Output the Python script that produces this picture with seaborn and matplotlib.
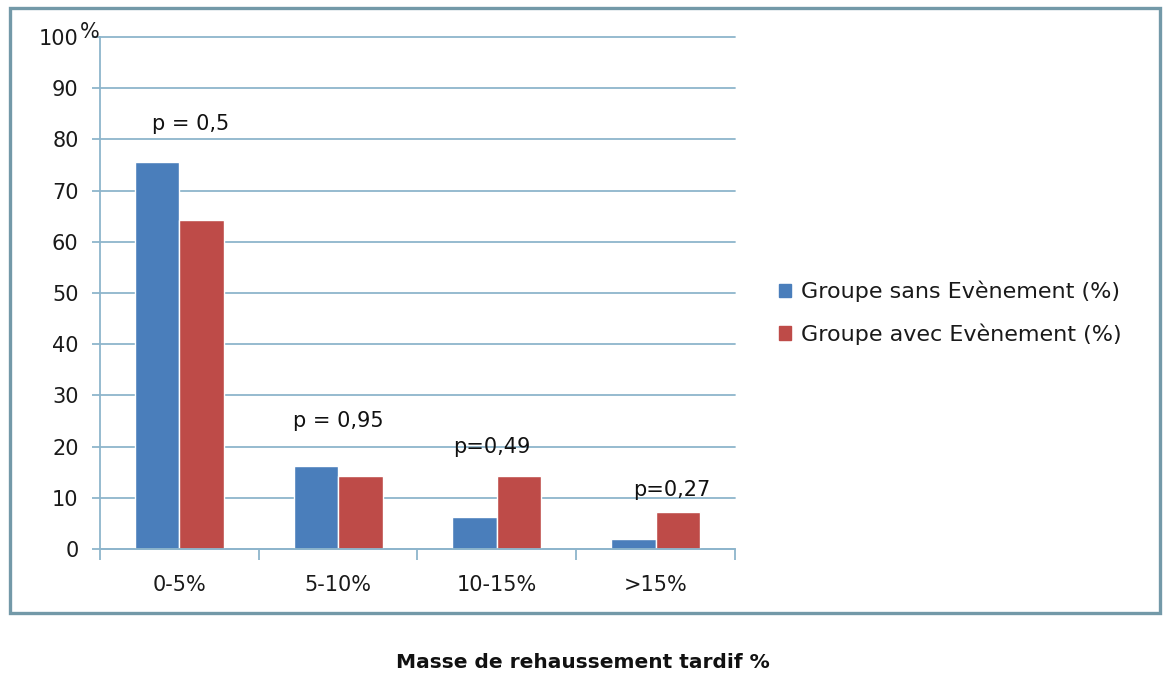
import matplotlib
matplotlib.use("Agg")
import matplotlib.pyplot as plt
import matplotlib.transforms as mtransforms
import seaborn as sns
import pandas as pd
from matplotlib.patches import Rectangle, Patch
from matplotlib.ticker import FixedLocator

categories = ["0-5%", "5-10%", "10-15%", ">15%"]
series_names = ["Groupe sans Evènement (%)", "Groupe avec Evènement (%)"]
sans_vals = [75.5, 16.2, 6.2, 2.0]
avec_vals = [64.3, 14.3, 14.3, 7.2]
p_labels = ["p = 0,5", "p = 0,95", "p=0,49", "p=0,27"]
p_x = [0.07, 1.0, 1.97, 3.1]
p_y = [83, 25, 19.9, 11.5]
y_ticks = [0, 10, 20, 30, 40, 50, 60, 70, 80, 90, 100]
colors = ["#4A7EBB", "#BE4B48"]

df = pd.DataFrame({
    "cat": categories * 2,
    "serie": [series_names[0]] * 4 + [series_names[1]] * 4,
    "val": sans_vals + avec_vals,
})

sns.set_theme(style="white")
plt.rcParams["font.family"] = ["DejaVu Sans"]

fig = plt.figure(figsize=(11.66, 6.74), dpi=100)
ax = fig.add_axes([0.0858, 0.1855, 0.5445, 0.7596])

sns.barplot(data=df, x="cat", y="val", hue="serie", palette=colors,
            order=categories, hue_order=series_names, width=0.56,
            saturation=1, ax=ax, legend=False)

grid_c = "#8DB5CC"
txt_c = "#1a1a1a"
fs = 15
ax.set_ylim(0, 100)
ax.set_xlim(-0.5, 3.5)
ax.yaxis.set_major_locator(FixedLocator(y_ticks))
ax.set_yticklabels([str(t) for t in y_ticks])
ax.grid(axis="y", color=grid_c, linewidth=1.3)
for gl in ax.yaxis.get_gridlines():
    gl.set_clip_on(False)
ax.set_axisbelow(True)
for s in ["top", "right"]:
    ax.spines[s].set_visible(False)
for s in ["left", "bottom"]:
    ax.spines[s].set_color(grid_c)
    ax.spines[s].set_linewidth(1.3)
ax.tick_params(axis="y", left=True, length=5.5, width=1.3, color=grid_c,
               labelsize=fs, labelcolor=txt_c, pad=10)
ax.xaxis.set_minor_locator(FixedLocator([-0.5, 0.5, 1.5, 2.5, 3.5]))
ax.tick_params(axis="x", which="minor", bottom=True, length=8, width=1.3, color=grid_c)
ax.tick_params(axis="x", which="major", bottom=False, labelsize=fs,
               labelcolor=txt_c, pad=13)
ax.set_xlabel("")
ax.set_ylabel("")

off = mtransforms.offset_copy(ax.transData, fig=fig, x=0, y=5, units="dots")
ax.text(-0.5, 100, "%", transform=off, ha="right", va="center",
        fontsize=fs, color=txt_c)

for lab, x, y in zip(p_labels, p_x, p_y):
    ax.text(x, y, lab, ha="center", va="center", fontsize=fs, color="#111111")

handles = [Patch(facecolor=c, edgecolor=c) for c in colors]
fig.legend(handles, series_names, loc="center left",
           bbox_to_anchor=(0.651, 0.536), frameon=False, fontsize=16,
           handlelength=0.55, handleheight=0.55, handletextpad=0.45,
           labelspacing=0.95, labelcolor=txt_c)

fig.patches.append(Rectangle((10 / 1166, 1 - 613 / 674), 1150 / 1166, 605 / 674,
                             transform=fig.transFigure, fill=False,
                             edgecolor="#7399A8", linewidth=2.4))

fig.text(0.5, 1 - 662 / 674, "Masse de rehaussement tardif %", ha="center",
         va="center", fontsize=14.5, fontweight="bold", color="#111111")

fig.savefig("out.png", dpi=100, facecolor="white")
